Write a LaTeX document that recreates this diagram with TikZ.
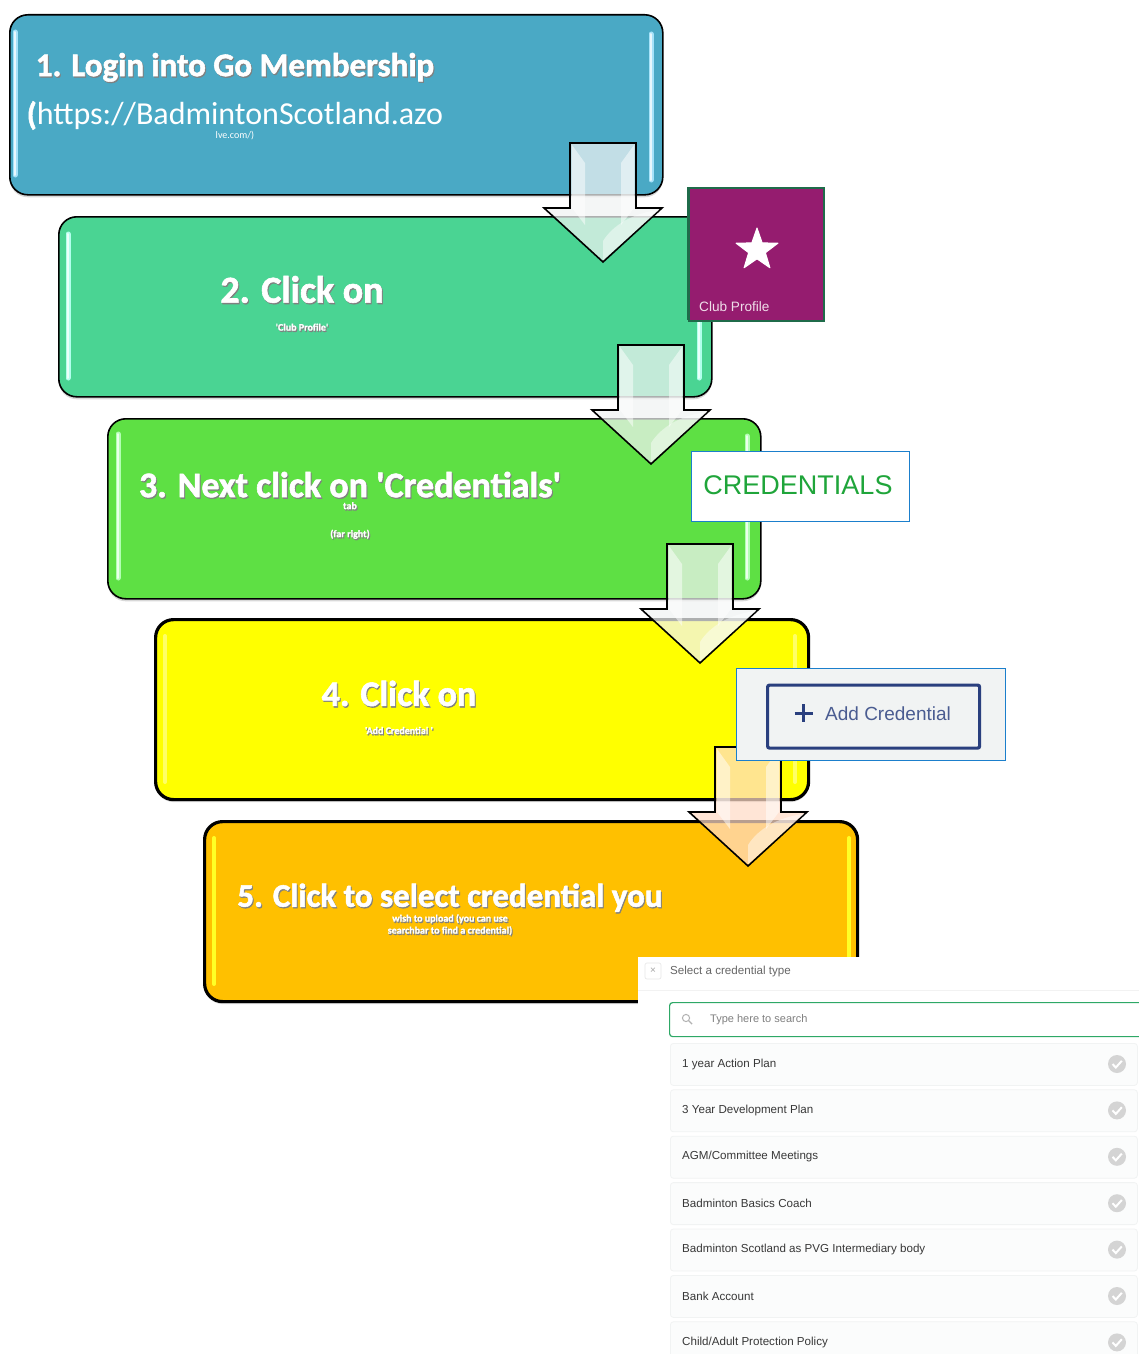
\documentclass[tikz,border=0pt]{standalone}
\usepackage{fontspec}
\usetikzlibrary{shapes.geometric,shadows}
\setmainfont{Carlito}
\newfontfamily\boxfont{Carlito}[BoldFeatures={FakeBold=1.6}]
\newfontfamily\uifont{Liberation Sans}
\definecolor{cBlue}{HTML}{4AA9C5}
\definecolor{cTeal}{HTML}{4AD493}
\definecolor{cGreen}{HTML}{5EE044}
\definecolor{cYellow}{HTML}{FFFF00}
\definecolor{cOrange}{HTML}{FFC000}
\definecolor{cPurple}{HTML}{951C6F}
\definecolor{cEdgeG}{HTML}{1F6B4A}
\definecolor{cEdgeB}{HTML}{1B7FCC}
\definecolor{cNavy}{HTML}{2A3F7E}
\definecolor{cPanel}{HTML}{F1F3F3}
\definecolor{cCredG}{HTML}{1FA53A}
\definecolor{cRow}{HTML}{FBFCFC}
\definecolor{cRowE}{HTML}{F1F3F3}
\definecolor{cSearch}{HTML}{2EA866}
\newcommand{\st}[1]{\leavevmode\rlap{\kern1pt\raisebox{-1.3pt}{\textcolor{black!50}{#1}}}#1}
\tikzset{
  stepbox/.style={draw=black,line width=1.6pt,rounded corners=18pt,minimum width=653pt,minimum height=180pt,anchor=north west,inner sep=0pt,
    drop shadow={shadow xshift=0pt,shadow yshift=-2.5pt,opacity=.3}},
  stepbold/.style={stepbox,line width=3.2pt},
  glow/.style={line cap=round,line width=5pt,draw=#1},
  glowcore/.style={line cap=round,line width=2pt,draw=white,opacity=.75},
  steptext/.style={text=white,align=center,font=\boxfont\bfseries},
  uitext/.style={font=\uifont,inner sep=0pt},
  rowbox/.style={draw=cRowE,fill=cRow,line width=.8pt,rounded corners=3pt,minimum width=467pt,minimum height=42pt,anchor=north west,inner sep=0pt},
  rowtext/.style={uitext,anchor=west,text=black!78,font=\uifont\fontsize{11.6}{13}\selectfont},
  pics/blockarrow/.style={code={
    \path[draw=black,line width=1.6pt,line join=miter,fill=#1,fill opacity=.72,draw opacity=1]
      (-33,0)--(33,0)--(33,65)--(59,65)--(0,119)--(-59,65)--(-33,65)--cycle;
    \path[fill=white,fill opacity=.5] (-31,2)--(-18,20)--(-18,82)--(-31,65)--cycle;
    \path[fill=white,fill opacity=.5] (31,2)--(18,20)--(18,82)--(31,65)--cycle;
    \path[fill=white,fill opacity=.45] (0,98)..controls (10,82) and (30,70)..(56,67)--(0,117)--cycle;
  }},
  pics/tickmark/.style={code={
    \path[fill=black!17] (0,0) circle (9);
    \path[draw=white,line width=2pt] (-4.5,0)--(-1.2,3.5)--(4.8,-3.2);
  }}
}
\begin{document}
\begin{tikzpicture}[x=1pt,y=-1pt]
\clip (0,0) rectangle (1139,1354);
\fill[white] (0,0) rectangle (1139,1354);

% ---- step 1
\node[stepbox,fill=cBlue] (s1) at (9,14) {};
\draw[glow=cyan!35] (15,32)--(15,175); \draw[glowcore] (15,32)--(15,175);
\draw[glow=cyan!35] (651,34)--(651,180); \draw[glowcore] (651,34)--(651,180);
\node[steptext,anchor=center] (t1a) at (235,68) {\fontsize{33}{35}\selectfont\st{1. Login into Go Membership}};
\node[text=white,align=center,anchor=center] (t1b) at (235,120.5) {\fontsize{32}{35}\selectfont{\boxfont\bfseries (}https://BadmintonScotland.azo\\lve.com/)};

% ---- step 2
\node[stepbox,fill=cTeal] (s2) at (58,216) {};
\draw[glow=green!25!cyan!30] (68,234)--(68,378); \draw[glowcore] (68,234)--(68,378);
\draw[glow=green!25!cyan!30] (699,234)--(699,378); \draw[glowcore] (699,234)--(699,378);
\node[steptext] (t2) at (302,304) {\fontsize{38}{40}\selectfont\st{2. Click on}\\[16pt]\st{'Club Profile'}};
\pic at (603,143) {blockarrow=cPanel};

% ---- club profile tile
\node[draw=cEdgeG,line width=2pt,fill=cPurple,minimum width=135pt,minimum height=133pt,anchor=north west,inner sep=0pt] (club) at (688,187) {};
\draw[cEdgeG,line width=3pt] (688.5,187)--(688.5,320);
\node[star,star points=5,star point ratio=2.5,fill=white,draw=white,line width=1pt,line join=round,minimum size=44pt,inner sep=0pt] (clubstar) at (757,250) {};
\node[uitext,anchor=west,text=white!85!cPurple,font=\uifont\fontsize{13.6}{15}\selectfont] (clubtext) at (699,307) {Club Profile};

% ---- step 3
\node[stepbox,fill=cGreen] (s3) at (107,418) {};
\draw[glow=green!30!white] (118,434)--(118,578); \draw[glowcore] (118,434)--(118,578);
\draw[glow=green!30!white] (747,436)--(747,578); \draw[glowcore] (747,436)--(747,578);
\node[steptext] (t3) at (350,506) {\fontsize{36}{41}\selectfont\st{3. Next click on 'Credentials'}\\\st{tab}\\[16pt]\st{(far right)}};
\pic at (651,345) {blockarrow=cPanel};

% ---- credentials tab
\node[draw=cEdgeB,line width=1.6pt,fill=white,minimum width=218pt,minimum height=70pt,anchor=north west,inner sep=0pt] (cred) at (690.5,450.5) {};
\node[uitext,text=cCredG,anchor=center,font=\uifont\fontsize{27}{30}\selectfont] (credtext) at (798,485.5) {CREDENTIALS};

% ---- step 4
\node[stepbold,fill=cYellow] (s4) at (154,618) {};
\draw[line cap=round,line width=4pt,draw=white!40!cYellow] (795,636)--(795,782);
\draw[line cap=round,line width=4pt,draw=white!40!cYellow] (165,636)--(165,782);
\node[steptext] (t4) at (399,708) {\fontsize{36}{40}\selectfont\st{4. Click on}\\[16pt]\st{'Add Credential '}};
\pic at (700,544) {blockarrow=cPanel};

% ---- step 5
\node[stepbold,fill=cOrange] (s5) at (203,820) {};
\draw[line cap=round,line width=4pt,draw=cYellow!85!white] (849,838)--(849,984);
\draw[line cap=round,line width=4pt,draw=cYellow!85!white] (214,838)--(214,984);
\node[steptext] (t5) at (450,910) {\fontsize{33}{35}\selectfont\st{5. Click to select credential you}\\\st{wish to upload (you can use}\\\st{searchbar to find a credential)}};
\pic at (748,747) {blockarrow={pink!60!orange!40!white}};

% ---- add credential panel
\node[draw=cEdgeB,line width=1.4pt,fill=cPanel,minimum width=269pt,minimum height=92pt,anchor=north west,inner sep=0pt] (addpanel) at (736,668) {};
\node[draw=cNavy,line width=3.2pt,rounded corners=2pt,minimum width=212pt,minimum height=63pt,anchor=north west,inner sep=0pt] (addbtn) at (766,683.5) {};
\draw[cNavy,line width=3pt] (794.5,713)--(813,713) (803.7,704)--(803.7,722);
\node[uitext,anchor=west,text=cNavy!85!white,font=\uifont\fontsize{19}{21}\selectfont] (addtext) at (825,714) {Add Credential};

% ---- credential list panel
\node[fill=white,minimum width=501pt,minimum height=397pt,anchor=north west,inner sep=0pt] (list) at (638,957) {};
\fill[black!5] (638,989.5) rectangle (1139,991);
\node[draw=black!9,line width=.7pt,rounded corners=2pt,minimum width=16pt,minimum height=16pt,inner sep=0pt] (closebtn) at (653,971) {};
\node[uitext,text=black!35,font=\uifont\fontsize{10}{11}\selectfont] (closex) at (653,971) {×};
\node[uitext,anchor=west,text=black!60,font=\uifont\fontsize{11.6}{13}\selectfont] (listhead) at (670,971) {Select a credential type};
\node[draw=cSearch,line width=1.2pt,rounded corners=3pt,minimum width=480pt,minimum height=34pt,anchor=north west,inner sep=0pt] (search) at (669,1002) {};
\draw[black!30,line width=1pt] (686,1018) circle (3.6);
\draw[black!30,line width=1.4pt] (688.8,1020.8)--(692,1024);
\node[uitext,anchor=west,text=black!50,font=\uifont\fontsize{11}{13}\selectfont] (searchtext) at (710,1019.5) {Type here to search};
\foreach \i/\yy/\lab in {1/1064/1 year Action Plan,
  2/1110.4/3 Year Development Plan,
  3/1156.8/AGM\slash Committee Meetings,
  4/1203.2/Badminton Basics Coach,
  5/1249.6/Badminton Scotland as PVG Intermediary body,
  6/1296/Bank Account,
  7/1342.4/Child\slash Adult Protection Policy}{
  \node[rowbox] (row\i) at (670,\yy-21) {};
  \node[rowtext] (rowt\i) at (682,\yy) {\lab};
  \pic at (1117,\yy) {tickmark};
}
\end{tikzpicture}
\end{document}
